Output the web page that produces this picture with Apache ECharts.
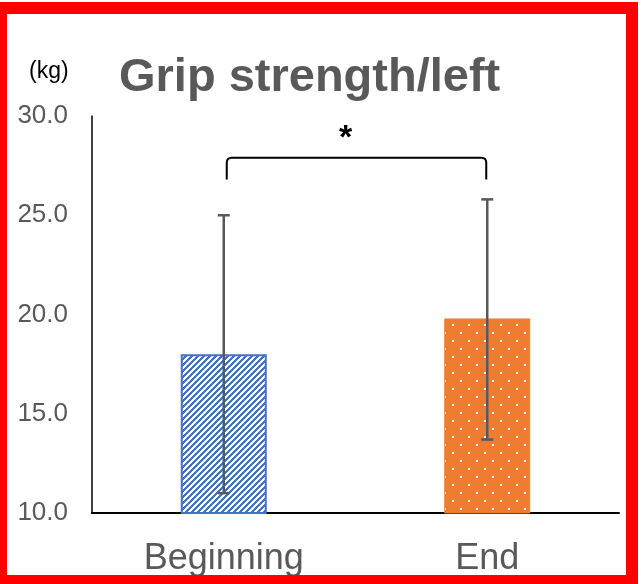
<!DOCTYPE html>
<html>
<head>
<meta charset="utf-8">
<script src="https://cdn.jsdelivr.net/npm/echarts@6/dist/echarts.min.js"></script>
<style>
html,body{margin:0;padding:0;background:#fff;}
#chart{width:641px;height:584px;}
</style>
</head>
<body>
<div id="chart"></div>
<script>
// ---- data ----
const categories = ['Beginning', 'End'];
const means = [18.0, 19.8];
const errLow = [11.0, 13.7];
const errHigh = [25.0, 25.8];
const yMin = 10, yMax = 30, yInterval = 5;
const bracketTop = 27.9;
const bracketEnd = 26.8;
const sigLabel = '*';
const titleText = 'Grip strength/left';
const unitText = '(kg)';

// ---- patterns ----
function stripePattern() {
  const c = document.createElement('canvas');
  c.width = 6; c.height = 6;
  const ctx = c.getContext('2d');
  ctx.fillStyle = '#ffffff';
  ctx.fillRect(0, 0, 6, 6);
  ctx.fillStyle = '#4472C4';
  for (let x = 0; x < 6; x++) for (let y = 0; y < 6; y++) {
    if ((x + y) % 6 < 3) ctx.fillRect(x, y, 1, 1);
  }
  return c;
}
function dotPattern() {
  const c = document.createElement('canvas');
  c.width = 16; c.height = 16;
  const ctx = c.getContext('2d');
  ctx.fillStyle = '#ED7D31';
  ctx.fillRect(0, 0, 16, 16);
  ctx.fillStyle = '#ffffff';
  ctx.fillRect(4, 4, 2, 2);
  ctx.fillRect(12, 12, 2, 2);
  return c;
}

const barFills = [
  { color: { image: stripePattern(), repeat: 'repeat' }, borderColor: '#4472C4', borderWidth: 2 },
  { color: { image: dotPattern(), repeat: 'repeat' }, borderColor: '#ED7D31', borderWidth: 1 }
];

const chart = echarts.init(document.getElementById('chart'), null, { renderer: 'canvas' });

const option = {
  animation: false,
  backgroundColor: '#ffffff',
  title: {
    text: titleText,
    left: 114,
    top: 50,
    textStyle: { fontFamily: 'Liberation Sans, Arial', fontSize: 47, fontWeight: 'bold', color: '#595959' }
  },
  grid: { left: 92, right: 22, top: 116, bottom: 71, containLabel: false },
  xAxis: {
    type: 'category',
    data: categories,
    axisLine: { lineStyle: { color: '#000000', width: 2 } },
    axisTick: { show: false },
    axisLabel: { fontFamily: 'Liberation Sans, Arial', fontSize: 36, color: '#595959', margin: 28 },
    splitLine: { show: false }
  },
  yAxis: {
    type: 'value',
    min: yMin, max: yMax, interval: yInterval,
    axisLine: { show: true, lineStyle: { color: '#000000', width: 1.5 } },
    axisTick: { show: false },
    splitLine: { show: false },
    axisLabel: {
      fontFamily: 'Liberation Sans, Arial', fontSize: 26, color: '#595959', margin: 24,
      formatter: v => v.toFixed(1)
    }
  },
  graphic: [
    { type: 'text', left: 29, top: 60, style: { text: unitText, fontFamily: 'Liberation Sans, Arial', fontSize: 23, fill: '#000000' } },
    { type: 'rect', shape: { x: 0, y: 2, width: 638, height: 12 }, style: { fill: '#ff0000' }, z: 100 },
    { type: 'rect', shape: { x: 0, y: 2, width: 7, height: 582 }, style: { fill: '#ff0000' }, z: 100 },
    { type: 'rect', shape: { x: 626, y: 2, width: 12, height: 582 }, style: { fill: '#ff0000' }, z: 100 },
    { type: 'rect', shape: { x: 0, y: 575, width: 638, height: 9 }, style: { fill: '#ff0000' }, z: 100 }
  ],
  series: [
    {
      type: 'bar',
      barWidth: 86,
      data: means.map((v, i) => ({ value: v, itemStyle: barFills[i] })),
      z: 2
    },
    {
      type: 'custom',
      z: 5,
      data: categories.map((c, i) => [i, errLow[i], errHigh[i]]),
      renderItem: function (params, api) {
        const x = api.value(0);
        const pH = api.coord([x, api.value(2)]);
        const pL = api.coord([x, api.value(1)]);
        const hw = 6;
        const st = { stroke: '#595959', lineWidth: 2.5, fill: null };
        return {
          type: 'group',
          children: [
            { type: 'line', shape: { x1: pH[0], y1: pH[1], x2: pL[0], y2: pL[1] }, style: st },
            { type: 'line', shape: { x1: pH[0] - hw, y1: pH[1], x2: pH[0] + hw, y2: pH[1] }, style: st },
            { type: 'line', shape: { x1: pL[0] - hw, y1: pL[1], x2: pL[0] + hw, y2: pL[1] }, style: st }
          ]
        };
      }
    },
    {
      type: 'custom',
      z: 6,
      data: [[0, 1, bracketTop, bracketEnd]],
      renderItem: function (params, api) {
        const a = api.coord([api.value(0), api.value(2)]);
        const b = api.coord([api.value(1), api.value(2)]);
        const ae = api.coord([api.value(0), api.value(3)]);
        const r = 5;
        const x1 = a[0] + 3, x2 = b[0] - 1, y = a[1], ye = ae[1];
        const path = 'M' + x1 + ' ' + ye + ' L' + x1 + ' ' + (y + r) +
          ' Q' + x1 + ' ' + y + ' ' + (x1 + r) + ' ' + y +
          ' L' + (x2 - r) + ' ' + y +
          ' Q' + x2 + ' ' + y + ' ' + x2 + ' ' + (y + r) +
          ' L' + x2 + ' ' + ye;
        return {
          type: 'group',
          children: [
            { type: 'path', shape: { pathData: path }, style: { stroke: '#000000', lineWidth: 2, fill: null } },
            {
              type: 'text',
              x: (x1 + x2) / 2 - 11, y: y - 2,
              style: { text: sigLabel, fontFamily: 'Liberation Sans, Arial', fontSize: 34, fontWeight: 'bold', fill: '#000000', align: 'center', verticalAlign: 'bottom' }
            }
          ]
        };
      }
    }
  ]
};
chart.setOption(option);
</script>
</body>
</html>
